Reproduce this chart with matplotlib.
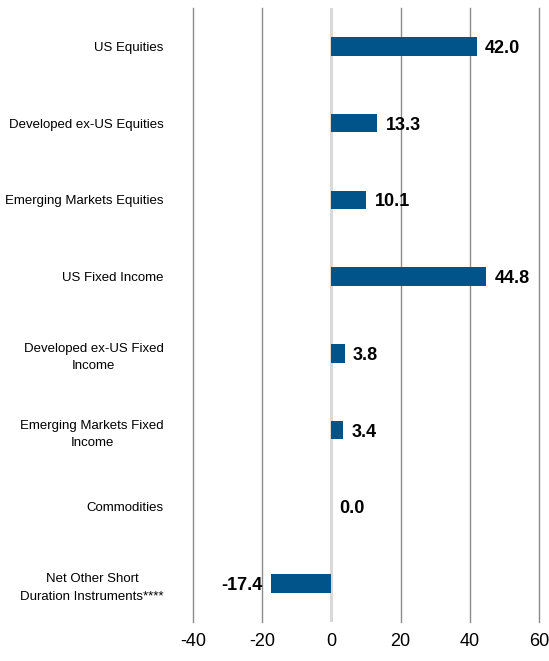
import matplotlib
matplotlib.use("Agg")
import matplotlib.pyplot as plt
import numpy as np

categories = [
    "US Equities",
    "Developed ex-US Equities",
    "Emerging Markets Equities",
    "US Fixed Income",
    "Developed ex-US Fixed\nIncome",
    "Emerging Markets Fixed\nIncome",
    "Commodities",
    "Net Other Short\nDuration Instruments****",
]
values = [42.0, 13.3, 10.1, 44.8, 3.8, 3.4, 0.0, -17.4]
x_ticks = [-40, -20, 0, 20, 40, 60]

bar_color = "#00548A"

plt.rcParams["font.family"] = ["Liberation Sans", "DejaVu Sans"]

fig = plt.figure(figsize=(5.49, 6.61), dpi=100)
ax = fig.add_axes([0.3515, 0.059, 0.6303, 0.929])

y = np.arange(len(categories))
ax.barh(y, values, height=0.24, color=bar_color, zorder=3)

# gridlines
for t in x_ticks:
    if t == 0:
        ax.axvline(t, color="#d9d9d9", lw=2.2, zorder=2)
    else:
        ax.axvline(t, color="#8c8c8c", lw=1.0, zorder=1, clip_on=False)

# value labels
for yi, v in zip(y, values):
    if v < 0:
        ax.annotate(f"{v:.1f}", (v, yi), xytext=(-6, -1.5), textcoords="offset points",
                    ha="right", va="center", fontsize=13, fontweight="bold")
    else:
        ax.annotate(f"{v:.1f}", (v, yi), xytext=(6, -1.5), textcoords="offset points",
                    ha="left", va="center", fontsize=13, fontweight="bold")

ax.set_xlim(-40, 60)
ax.set_ylim(len(categories) - 0.5, -0.5)
ax.set_xticks(x_ticks)
ax.set_xticklabels([str(t) for t in x_ticks], fontsize=13)
ax.set_yticks(y)
ax.set_yticklabels(categories, fontsize=9.5, linespacing=1.6)
for lbl in ax.get_yticklabels():
    lbl.set_multialignment("center")
ax.tick_params(axis="both", length=0)
ax.tick_params(axis="y", pad=21)
ax.tick_params(axis="x", pad=8)
for s in ax.spines.values():
    s.set_visible(False)

fig.savefig("out.png", dpi=100)
